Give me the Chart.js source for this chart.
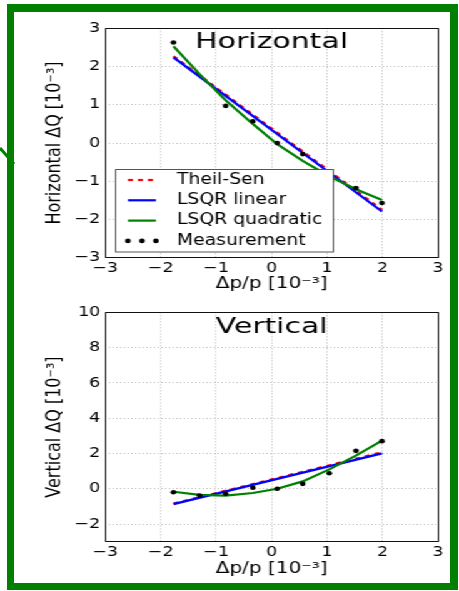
<!DOCTYPE html>
<html>
<head>
<meta charset="utf-8">
<script src="https://cdn.jsdelivr.net/npm/chart.js@4.4.0/dist/chart.umd.min.js"></script>
<style>
  html, body { margin: 0; padding: 0; background: #fff; }
  body { width: 459px; height: 591px; position: relative; overflow: hidden; }
  #frame {
    position: absolute; left: 7px; top: 4px; width: 451px; height: 586px;
    box-sizing: border-box; border-style: solid; border-color: #007f00;
    border-width: 8px 8px 7px 7px;
  }
  #arrow { position: absolute; left: 0; top: 140px; }
  /* plots are laid out narrow and stretched sideways */
  #plots {
    position: absolute; left: 0; top: 0; width: 367px; height: 591px;
    transform: scaleX(1.2507); transform-origin: 0 0;
  }
  #plots canvas { position: absolute; left: 0; }
</style>
</head>
<body>
<div id="frame"></div>
<svg id="arrow" width="20" height="30"><line x1="0" y1="8" x2="14" y2="24" stroke="#007f00" stroke-width="3"/></svg>
<div id="plots">
  <canvas id="hz" width="367" height="300" style="top:0;width:367px;height:300px"></canvas>
  <canvas id="vt" width="367" height="291" style="top:300px;width:367px;height:291px"></canvas>
</div>
<script>
// momentum offsets dp/p [1e-3] of the measurements
const dpp = [-1.77, -1.30, -0.83, -0.34, 0.10, 0.56, 1.04, 1.52, 1.99];
// straight fits only need their two ends
const fitX = [-1.77, 1.99];

// horizontal tune shift [1e-3] (no reading at -1.30)
const hMeasured  = [2.63, null, 0.97, 0.57, 0.00, -0.29, -0.80, -1.18, -1.57];
const hQuadratic = [2.53, 1.80, 1.12, 0.50, -0.03, -0.47, -0.87, -1.21, -1.49];
const hTheilSen  = [2.27, -1.75];
const hLinear    = [2.24, -1.79];

// vertical tune shift [1e-3]
const vMeasured  = [-0.20, -0.38, -0.28, 0.06, 0.00, 0.28, 0.88, 2.15, 2.70];
const vQuadratic = [-0.17, -0.35, -0.39, -0.24, 0.00, 0.42, 1.10, 1.88, 2.73];
const vTheilSen  = [-0.84, 2.07];
const vLinear    = [-0.87, 2.01];

const xRange = [-3, 3];
const hRange = [-3, 3];
const vRange = [-3, 10];

Chart.defaults.font.family = '"DejaVu Sans", sans-serif';
Chart.defaults.color = '#000';

const pts = (xs, ys) => xs.map((x, i) => ({ x: x, y: ys[i] }));
const minusSign = v => String(v).replace('-', '\u2212');

// black frame round the plot area
const axesBox = {
  id: 'axesBox',
  afterDatasetsDraw(chart) {
    const { ctx, chartArea: a } = chart;
    ctx.save();
    ctx.strokeStyle = '#111';
    ctx.lineWidth = 1;
    ctx.strokeRect(Math.round(a.left) + 0.5, Math.round(a.top) + 0.5,
      Math.round(a.right - a.left), Math.round(a.bottom - a.top));
    ctx.restore();
  }
};

// big title written inside the axes
const panelTitle = {
  id: 'panelTitle',
  afterDraw(chart, args, opts) {
    const { ctx, chartArea: a } = chart;
    ctx.save();
    ctx.font = '21px "DejaVu Sans"';
    ctx.fillStyle = '#000';
    ctx.textAlign = 'center';
    ctx.textBaseline = 'alphabetic';
    ctx.translate((a.left + a.right) / 2, a.top + opts.baseline);
    ctx.scale(1.14, 1);
    ctx.fillText(opts.text, 0, 0);
    ctx.restore();
  }
};

// legend box inside the axes, matplotlib style
const panelLegend = {
  id: 'panelLegend',
  afterDraw(chart, args, opts) {
    if (!opts.display) return;
    const ctx = chart.ctx;
    const b = opts.box;
    ctx.save();
    ctx.fillStyle = '#fff';
    ctx.fillRect(b.x, b.y, b.w, b.h);
    ctx.strokeStyle = '#555';
    ctx.lineWidth = 1;
    ctx.strokeRect(b.x + 0.5, b.y + 0.5, b.w, b.h);
    ctx.font = '15px "DejaVu Sans"';
    ctx.textBaseline = 'middle';
    chart.data.datasets.forEach((ds, i) => {
      const y = b.y + 11 + i * 20.3;
      const x1 = b.x + 10.3, x2 = b.x + 32.7;
      if (ds.showLine) {
        ctx.strokeStyle = ds.borderColor;
        ctx.lineWidth = ds.borderWidth;
        ctx.setLineDash(ds.borderDash || []);
        ctx.beginPath();
        ctx.moveTo(x1, y);
        ctx.lineTo(x2, y);
        ctx.stroke();
        ctx.setLineDash([]);
      } else {
        ctx.fillStyle = ds.backgroundColor;
        [x1, (x1 + x2) / 2, x2].forEach(px => {
          ctx.beginPath();
          ctx.arc(px, y, ds.pointRadius, 0, Math.PI * 2);
          ctx.fill();
        });
      }
      ctx.fillStyle = '#000';
      ctx.fillText(ds.label, b.x + 49.5, y);
    });
    ctx.restore();
  }
};

function makeDatasets(theil, lin, quad, meas) {
  return [
    { label: 'Theil-Sen', data: pts(fitX, theil), showLine: true, borderColor: '#ff0000',
      borderWidth: 2.2, borderDash: [4, 4], pointRadius: 0, order: 3 },
    { label: 'LSQR linear', data: pts(fitX, lin), showLine: true, borderColor: '#0000ff',
      borderWidth: 2.2, pointRadius: 0, order: 2 },
    { label: 'LSQR quadratic', data: pts(dpp, quad), showLine: true, borderColor: '#008000',
      borderWidth: 2.2, pointRadius: 0, order: 1 },
    { label: 'Measurement', data: pts(dpp, meas), showLine: false, backgroundColor: '#000',
      borderWidth: 0, pointRadius: 2.3, order: 0 }
  ];
}

function makeOptions(c) {
  return {
    responsive: false,
    animation: false,
    events: [],
    layout: { padding: { top: c.top, right: 16.8, left: 0, bottom: 0 } },
    plugins: {
      legend: { display: false },
      tooltip: { enabled: false },
      panelTitle: { text: c.title, baseline: c.titleBaseline },
      panelLegend: { display: c.legend, box: { x: 92, y: 169, w: 174, h: 82.5 } }
    },
    scales: {
      x: {
        type: 'linear', min: xRange[0], max: xRange[1],
        afterFit: s => { s.height = c.xAxisHeight; },
        ticks: { stepSize: 1, padding: 2, font: { size: 14 }, callback: minusSign },
        grid: { color: '#bcbcbc', drawTicks: false },
        border: { display: false, dash: [1, 2] },
        title: { display: true, text: 'Δp/p [10⁻³]', font: { size: 16 },
                 padding: { top: 0, bottom: c.xTitlePad } }
      },
      y: {
        type: 'linear', min: c.yRange[0], max: c.yRange[1],
        afterFit: s => { s.width = 84.2; },
        ticks: { stepSize: c.yStep, includeBounds: false, padding: 4, font: { size: 14 },
                 callback: minusSign },
        grid: { color: '#bcbcbc', drawTicks: false },
        border: { display: false, dash: [1, 2] },
        title: { display: true, text: c.yTitle, font: { size: 16 },
                 padding: { top: 34.4, bottom: 0 } }
      }
    }
  };
}

new Chart(document.getElementById('hz'), {
  type: 'scatter',
  data: { datasets: makeDatasets(hTheilSen, hLinear, hQuadratic, hMeasured) },
  options: makeOptions({
    top: 28.3, xAxisHeight: 42.3, xTitlePad: 6.4, yRange: hRange, yStep: 1,
    yTitle: 'Horizontal ΔQ [10⁻³]', title: 'Horizontal', titleBaseline: 20, legend: true
  }),
  plugins: [axesBox, panelTitle, panelLegend]
});

new Chart(document.getElementById('vt'), {
  type: 'scatter',
  data: { datasets: makeDatasets(vTheilSen, vLinear, vQuadratic, vMeasured) },
  options: makeOptions({
    top: 11.7, xAxisHeight: 49.3, xTitlePad: 12.4, yRange: vRange, yStep: 2,
    yTitle: 'Vertical ΔQ [10⁻³]', title: 'Vertical', titleBaseline: 21, legend: false
  }),
  plugins: [axesBox, panelTitle, panelLegend]
});
</script>
</body>
</html>
